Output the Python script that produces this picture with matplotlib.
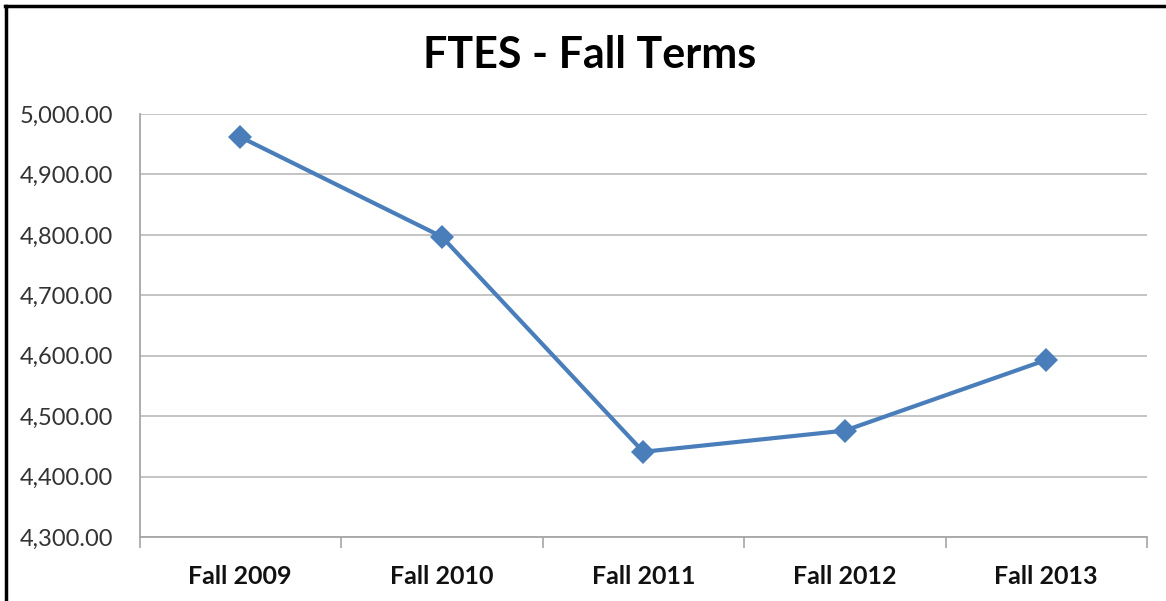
import matplotlib
matplotlib.use("Agg")
import matplotlib.pyplot as plt
from matplotlib.lines import Line2D
from matplotlib.ticker import FuncFormatter, FixedLocator

categories = ["Fall 2009", "Fall 2010", "Fall 2011", "Fall 2012", "Fall 2013"]
ftes = [4962, 4797, 4441, 4476, 4593]
y_ticks = [4300, 4400, 4500, 4600, 4700, 4800, 4900, 5000]

plt.rcParams['font.family'] = ['Lato', 'DejaVu Sans']

fig = plt.figure(figsize=(11.66, 6.01), dpi=100)
ax = fig.add_axes([139.5/1166, 1-537/601, (1147-139.5)/1166, (537-114)/601])

x = list(range(len(categories)))
ax.plot(x, ftes, color='#4A7EBB', lw=3.0, marker='D', markersize=12.5,
        markeredgewidth=0, zorder=3, clip_on=False)

ax.set_ylim(4300, 5000)
ax.set_xlim(-0.5, len(categories)-0.5)
ax.set_yticks(y_ticks)
ax.yaxis.set_major_formatter(FuncFormatter(lambda v, p: f"{v:,.2f}"))
ax.tick_params(axis='y', length=0, pad=19, labelsize=17, labelcolor='#333333')
ax.grid(axis='y', color='#BFBFBF', lw=1.3)
ax.set_axisbelow(True)

ax.set_xticks(x)
ax.set_xticklabels(categories, fontsize=18, fontweight='bold', color='#111111')
ax.tick_params(axis='x', which='major', length=0, pad=20)
ax.xaxis.set_minor_locator(FixedLocator([i - 0.5 for i in range(len(categories)+1)]))
ax.tick_params(axis='x', which='minor', length=8, width=1.2, color='#A6A6A6')

for s in ['top', 'right']:
    ax.spines[s].set_visible(False)
for s in ['left', 'bottom']:
    ax.spines[s].set_color('#A6A6A6')
    ax.spines[s].set_linewidth(1.3)

fig.text(590/1166, 1-55/601, "FTES - Fall Terms", ha='center', va='center',
         fontsize=31, fontweight='bold', color='#000000')

fig.add_artist(Line2D([6/1166, 6/1166], [0, 1-6/601], color='black', lw=2.5,
                      transform=fig.transFigure))
fig.add_artist(Line2D([5/1166, 1], [1-6/601, 1-6/601], color='black', lw=2.5,
                      transform=fig.transFigure))

fig.savefig("out.png", dpi=100)
